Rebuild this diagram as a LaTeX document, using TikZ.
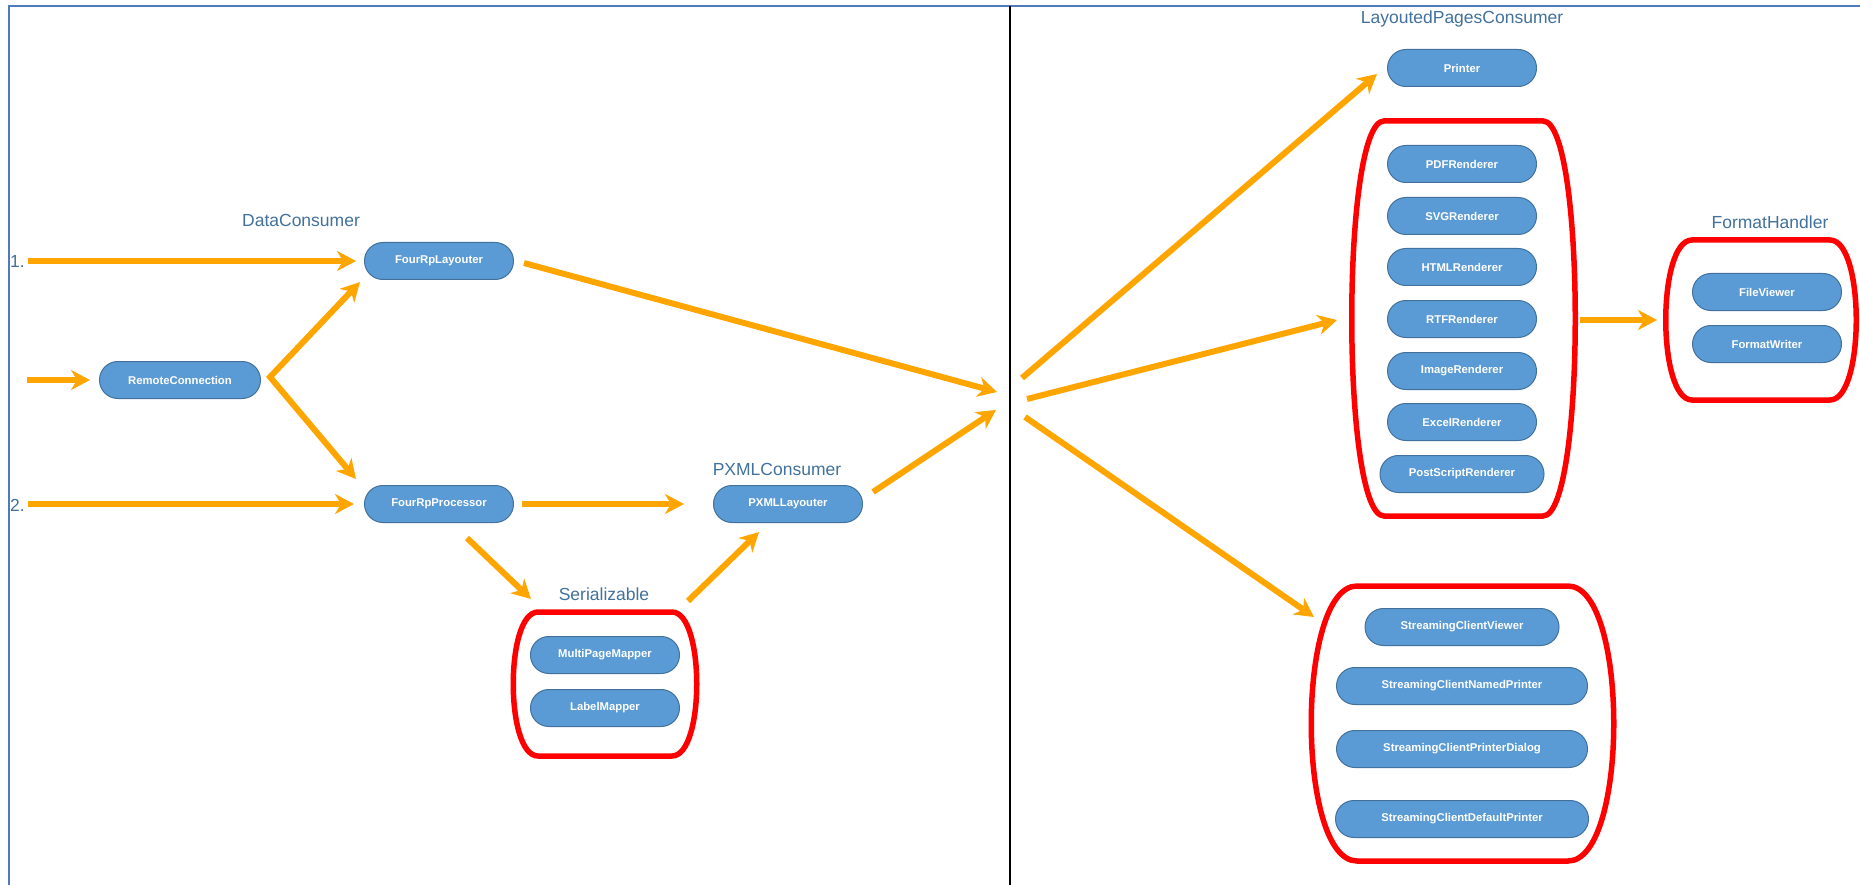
\documentclass[tikz,border=0pt]{standalone}
\usepackage{fontspec}
\setmainfont{Liberation Sans}
\usetikzlibrary{arrows.meta}
\definecolor{boxfill}{HTML}{5B9BD5}
\definecolor{boxline}{HTML}{41719C}
\definecolor{lblue}{HTML}{41719C}
\definecolor{frameblue}{HTML}{4F7BBE}
\definecolor{flowor}{HTML}{FFA500}
\begin{document}
\begin{tikzpicture}[x=1pt,y=-1pt,
	box/.style={draw=boxline,fill=boxfill,text=white,font=\bfseries\fontsize{11.3}{13}\selectfont,minimum width=149pt,minimum height=37pt,rounded corners=18.4pt,inner sep=0pt,line width=1pt},
	lbl/.style={text=lblue,font=\fontsize{17.5}{20}\selectfont,inner sep=0pt},
	flow/.style={draw=flowor,line width=6pt,->},
	grp/.style={draw=red,line width=5.5pt},
	>={Stealth[length=19pt,width=20pt,inset=6pt]}]
	\useasboundingbox (0,0) rectangle (1860,885);
	\draw[frameblue,line width=1.5pt] (9,885)--(9,6)--(1860,6);
	\draw[line width=2pt] (1010,6)--(1010,885);
	% left side
	\node[lbl] (datalbl) at (301,220) {DataConsumer};
	\node[lbl,anchor=west] (one) at (10,261) {1.};
	\node[lbl,anchor=west] (two) at (10,505) {2.};
	\node[box] (lay) at (439,261) {FourRpLayouter};
	\node[box,minimum width=161pt] (remote) at (180,380) {RemoteConnection};
	\node[box] (proc) at (439,504) {FourRpProcessor};
	\node[lbl] (pxmllbl) at (777,469) {PXMLConsumer};
	\node[box] (pxml) at (788,504) {PXMLLayouter};
	\node[lbl] (serlbl) at (604,594) {Serializable};
	\node[box] (multi) at (605,655) {MultiPageMapper};
	\node[box] (labelmap) at (605,708) {LabelMapper};
	\draw[grp] (538,612)--(672,612) .. controls (705,612) and (705,756) .. (672,756)--(538,756) .. controls (505,756) and (505,612) .. cycle;
	\coordinate (in1) at (28,261);
	\coordinate (in0) at (27,380);
	\coordinate (in2) at (28,504);
	\coordinate (fork) at (270,377);
	\coordinate (serin) at (531,599);
	\coordinate (serout) at (688,601);
	\coordinate (hubin1) at (997,392);
	\coordinate (hubin2) at (996,410);
	\draw[flow] (in1)--([xshift=-8pt]lay.west);
	\draw[flow] (in0)--([xshift=-9pt]remote.west);
	\draw[flow] (in2)--([xshift=-10pt]proc.west);
	\draw[flow,<->] ([shift={(-4pt,-2pt)}]lay.south west)--(fork)--([shift={(-8pt,6pt)}]proc.north west);
	\draw[flow] ([shift={(10pt,-2pt)}]lay.east)--(hubin1);
	\draw[flow] ([xshift=8pt]proc.east)--([xshift=-29pt]pxml.west);
	\draw[flow] ([shift={(28pt,-15pt)}]proc.south)--(serin);
	\draw[flow] (serout)--([shift={(-29pt,-9pt)}]pxml.south);
	\draw[flow] ([shift={(10pt,12pt)}]pxml.east)--(hubin2);
	% right side
	\node[lbl] (pageslbl) at (1462,19) {LayoutedPagesConsumer};
	\node[box] (printer) at (1462,68) {Printer};
	\node[box] (pdf) at (1462,164) {PDFRenderer};
	\node[box] (svg) at (1462,216) {SVGRenderer};
	\node[box] (html) at (1462,267) {HTMLRenderer};
	\node[box] (rtf) at (1462,319) {RTFRenderer};
	\node[box] (image) at (1462,371) {ImageRenderer};
	\node[box] (excel) at (1462,422) {ExcelRenderer};
	\node[box,minimum width=164pt] (postscript) at (1462,474) {PostScriptRenderer};
	\draw[grp] (1384,121)--(1543,121) .. controls (1586,121) and (1586,516) .. (1543,516)--(1384,516) .. controls (1341,516) and (1341,121) .. cycle;
	\node[lbl] (fmtlbl) at (1770,222) {FormatHandler};
	\node[box] (fileviewer) at (1767,292) {FileViewer};
	\node[box] (formatwriter) at (1767,344) {FormatWriter};
	\draw[grp] (1692,240)--(1830,240) .. controls (1865,240) and (1865,400) .. (1830,400)--(1692,400) .. controls (1657,400) and (1657,240) .. cycle;
	\node[box,minimum width=194pt] (scviewer) at (1462,627) {StreamingClientViewer};
	\node[box,minimum width=251pt] (scnamed) at (1462,686) {StreamingClientNamedPrinter};
	\node[box,minimum width=251pt] (scdialog) at (1462,749) {StreamingClientPrinterDialog};
	\node[box,minimum width=253pt] (scdefault) at (1462,819) {StreamingClientDefaultPrinter};
	\draw[grp] (1357,586)--(1568,586) .. controls (1629,586) and (1629,861) .. (1568,861)--(1357,861) .. controls (1296,861) and (1296,586) .. cycle;
	\coordinate (hubout1) at (1022,378);
	\coordinate (hubout2) at (1027,399);
	\coordinate (hubout3) at (1025,417);
	\coordinate (rendin) at (1337,320);
	\coordinate (streamin) at (1314,617);
	\coordinate (rendout) at (1580,320);
	\coordinate (fmtin) at (1657,320);
	\draw[flow] (hubout1)--([shift={(-10pt,-6pt)}]printer.west);
	\draw[flow] (hubout2)--(rendin);
	\draw[flow] (hubout3)--(streamin);
	\draw[flow] (rendout)--(fmtin);
\end{tikzpicture}
\end{document}
